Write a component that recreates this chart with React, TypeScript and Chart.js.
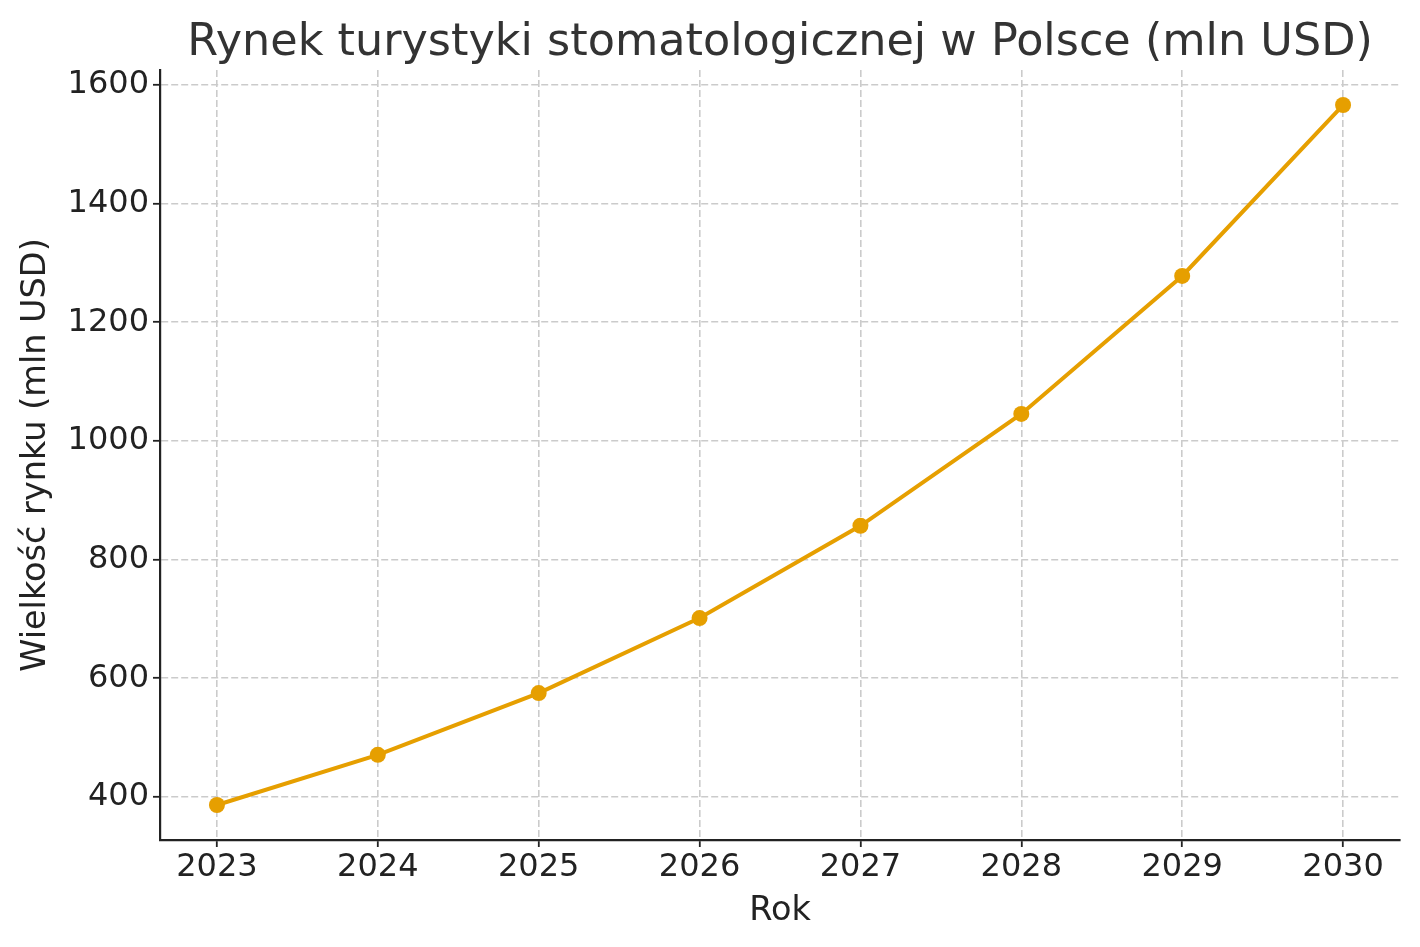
import React, { useEffect, useRef } from "react";
import { Chart, registerables } from "chart.js";

Chart.register(...registerables);

const years = [2023, 2024, 2025, 2026, 2027, 2028, 2029, 2030];
const marketSize = [386.5, 471, 575, 701.5, 857, 1045.5, 1278, 1566];
const yTicks = [400, 600, 800, 1000, 1200, 1400, 1600];

const TITLE = "Rynek turystyki stomatologicznej w Polsce (mln USD)";
const X_TITLE = "Rok";
const Y_TITLE = "Wielkość rynku (mln USD)";
const FONT = "'DejaVu Sans', sans-serif";

const titlePlugin = {
  id: "plotTitle",
  afterDraw(chart: any) {
    const { ctx, chartArea } = chart;
    ctx.save();
    ctx.font = `44.5px ${FONT}`;
    ctx.fillStyle = "#333333";
    ctx.textAlign = "center";
    ctx.textBaseline = "alphabetic";
    ctx.fillText(TITLE, (chartArea.left + chartArea.right) / 2, 55);
    ctx.restore();
  },
};

export default function App() {
  const ref = useRef<HTMLCanvasElement | null>(null);

  useEffect(() => {
    if (!ref.current) return;
    const gridOpts = {
      color: "#cbcbcb",
      lineWidth: 1.6,
      tickLength: 7,
      tickColor: "#222222",
      tickWidth: 1.8,
    };
    const borderOpts = { display: true, color: "#222222", width: 2.2, dash: [7, 3] };
    const chart = new Chart(ref.current, {
      type: "line",
      data: {
        datasets: [
          {
            data: years.map((y, i) => ({ x: y, y: marketSize[i] })),
            borderColor: "#E69F00",
            backgroundColor: "#E69F00",
            borderWidth: 4,
            pointRadius: 8,
            pointBorderWidth: 0,
            pointBackgroundColor: "#E69F00",
            tension: 0,
            fill: false,
          },
        ],
      },
      plugins: [titlePlugin],
      options: {
        animation: false,
        responsive: false,
        devicePixelRatio: 1,
        layout: { padding: { left: 0, right: 20, top: 70, bottom: 0 } },
        plugins: {
          legend: { display: false },
          tooltip: { enabled: false },
          title: { display: false },
        },
        scales: {
          x: {
            type: "linear",
            min: 2022.646,
            max: 2030.354,
            afterBuildTicks: (scale: any) => {
              scale.ticks = years.map((v) => ({ value: v }));
            },
            afterFit: (scale: any) => {
              scale.height = 107;
            },
            ticks: {
              color: "#222222",
              font: { family: FONT, size: 32 },
              padding: 1,
              maxRotation: 0,
              callback: (v: any) => String(v),
            },
            grid: gridOpts,
            border: borderOpts,
            title: {
              display: true,
              text: X_TITLE,
              color: "#222222",
              font: { family: FONT, size: 33.5 },
              padding: { top: 4, bottom: 16 },
            },
          },
          y: {
            type: "linear",
            min: 327.5,
            max: 1625,
            afterBuildTicks: (scale: any) => {
              scale.ticks = yTicks.map((v) => ({ value: v }));
            },
            afterFit: (scale: any) => {
              scale.width = 160;
            },
            ticks: {
              color: "#222222",
              font: { family: FONT, size: 32 },
              padding: 4,
              callback: (v: any) => String(v),
            },
            grid: gridOpts,
            border: borderOpts,
            title: {
              display: true,
              text: Y_TITLE,
              color: "#222222",
              font: { family: FONT, size: 33.5 },
              padding: { top: 16, bottom: 4 },
            },
          },
        },
      },
    });
    return () => chart.destroy();
  }, []);

  return (
    <div style={{ position: "fixed", left: 0, top: 0, width: 1420, height: 947, background: "#fff" }}>
      <canvas ref={ref} width={1420} height={947} />
    </div>
  );
}
